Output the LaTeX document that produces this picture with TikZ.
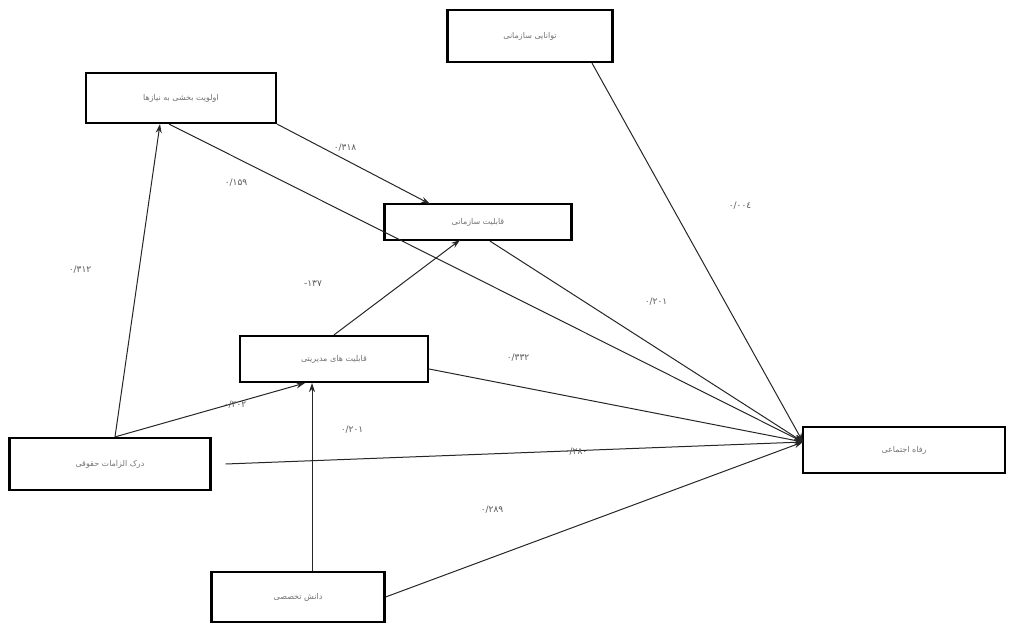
\documentclass[tikz,border=0pt]{standalone}
\usepackage{fontspec}
\newfontfamily\arabicfont[Script=Arabic]{DejaVu Sans}
\newfontfamily\numfont{DejaVu Sans}
\TeXXeTstate=1
\usetikzlibrary{arrows.meta}
\begin{document}
\begin{tikzpicture}[x=1pt,y=-1pt,
  box/.style={draw=black,line width=2.2pt,fill=white,inner sep=0pt,text=black!55,font=\arabicfont\fontsize{8}{9}\selectfont},
  conn/.style={draw=black!85,line width=1pt,-{Stealth[length=9pt,width=6pt]}},
  lab/.style={text=black!65,font=\numfont\fontsize{9}{10}\selectfont}]
\useasboundingbox (0,0) rectangle (1012,623);
\node[box,minimum width=165pt,minimum height=52pt] (tav) at (530,36) {\beginR توانایی سازمانی\endR};
\node[box,minimum width=190pt,minimum height=50pt] (olv) at (181,98) {\beginR اولویت بخشی به نیازها\endR};
\node[box,minimum width=187pt,minimum height=36pt] (qs) at (478,222) {\beginR قابلیت سازمانی\endR};
\node[box,minimum width=188pt,minimum height=46pt] (qm) at (334,359) {\beginR قابلیت های مدیریتی\endR};
\node[box,minimum width=201pt,minimum height=52pt] (dk) at (110,464) {\beginR درک الزامات حقوقی\endR};
\node[box,minimum width=202pt,minimum height=46pt] (rf) at (904,450) {\beginR رفاه اجتماعی\endR};
\node[box,minimum width=173pt,minimum height=50pt] (dn) at (298,597) {\beginR دانش تخصصی\endR};
\coordinate (rfin) at (803,442);
\draw[conn] (tav.south)++(62,0) -- (rfin);
\draw[conn] (olv.south east) -- (430,204);
\draw[conn] (olv.south)++(-12,0) -- (rfin);
\draw[conn] (qs.south)++(12,0) -- (rfin);
\draw[conn] (qm.north) -- (460,240);
\draw[conn] (qm.east)++(0,10) -- (rfin);
\draw[conn] (dk.north) ++(5,0) -- (160,124);
\draw[conn] (dk.north) ++(5,0) -- (305,383);
\draw[conn] (dk.east)++(14,0) -- (rfin);
\draw[conn] (dn.north)++(14,0) -- (312,383);
\draw[conn] (dn.east) -- (rfin);
\node[lab] (l1) at (345,148) {۰/۳۱۸};
\node[lab] (l2) at (236,183) {۰/۱۵۹};
\node[lab] (l3) at (740,206) {۰/۰۰٤};
\node[lab] (l4) at (656,302) {۰/۲۰۱};
\node[lab] (l5) at (313,284) {-۱۳۷};
\node[lab] (l6) at (518,358) {۰/۳۳۲};
\node[lab] (l7) at (80,270) {۰/۳۱۲};
\node[lab] (l8) at (235,405) {۰/۳۰۲};
\node[lab] (l9) at (576,452) {۰/۲۸۰};
\node[lab] (l10) at (352,430) {۰/۲۰۱};
\node[lab] (l11) at (492,510) {۰/۲۸۹};
\end{tikzpicture}
\end{document}
